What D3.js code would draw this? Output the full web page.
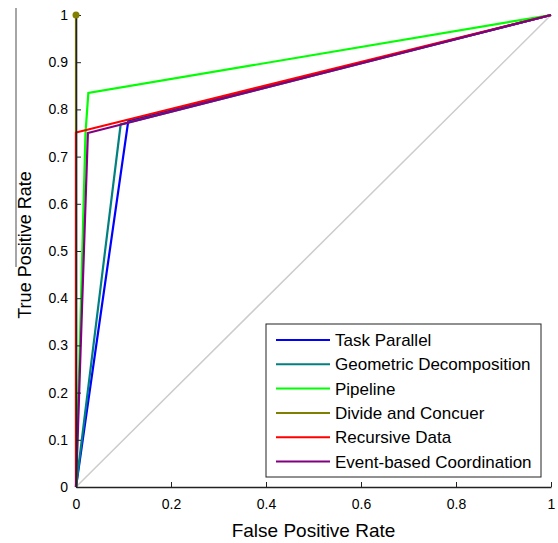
<!DOCTYPE html>
<html>
<head>
<meta charset="utf-8">
<script src="https://cdn.jsdelivr.net/npm/d3@7"></script>
<style>
  body { margin: 0; background: #fff; }
  svg { font-family: "Liberation Sans", Arial, sans-serif; }
</style>
</head>
<body>
<svg id="grafico"></svg>
<script>
const largura = 558;
const altura = 543;
const margem = { top: 15, right: 7, bottom: 56, left: 76 };

// Dados (FPR, TPR)
const series = ["Task Parallel", "Geometric Decomposition", "Pipeline",
                "Divide and Concuer", "Recursive Data", "Event-based Coordination"];
const cores = ["#0000ff", "#008080", "#00ff00", "#808000", "#ff0000", "#800080"];
const fprTask = [0, 0.11, 1];
const tprTask = [0, 0.775, 1];
const fprGeo = [0, 0.094, 1];
const tprGeo = [0, 0.768, 1];
const fprPipe = [0, 0.02, 0.026, 1];
const tprPipe = [0, 0.75, 0.835, 1];
const fprDivide = [0, 0];
const tprDivide = [0, 1];
const fprRec = [0, 0, 1];
const tprRec = [0, 0.751, 1];
const fprEvent = [0, 0.025, 1];
const tprEvent = [0, 0.75, 1];
const xTicks = [0, 0.2, 0.4, 0.6, 0.8, 1];
const yTicks = [0, 0.1, 0.2, 0.3, 0.4, 0.5, 0.6, 0.7, 0.8, 0.9, 1];

const curvas = [
  [fprTask, tprTask], [fprGeo, tprGeo], [fprPipe, tprPipe],
  [fprDivide, tprDivide], [fprRec, tprRec], [fprEvent, tprEvent]
].map(([fx, ty], i) => ({ nome: series[i], cor: cores[i], pts: fx.map((v, j) => [v, ty[j]]) }));

const svg = d3.select("#grafico")
  .attr("width", largura)
  .attr("height", altura);

// Escalas
const x = d3.scaleLinear().domain([0, 1]).range([margem.left, largura - margem.right]);
const y = d3.scaleLinear().domain([0, 1]).range([altura - margem.bottom, margem.top]);

const linha = d3.line().x(d => x(d[0])).y(d => y(d[1]));

// borda cinza à esquerda (artefato da figura)
svg.append("line")
  .attr("x1", 16).attr("x2", 16).attr("y1", 8).attr("y2", 267)
  .attr("stroke", "#888").attr("stroke-width", 1.5);

// diagonal
svg.append("path")
  .datum([[0, 0], [1, 1]])
  .attr("fill", "none")
  .attr("stroke", "#cccccc")
  .attr("stroke-width", 1.5)
  .attr("d", linha);

// Curvas
curvas.forEach(c => {
  svg.append("path")
    .datum(c.pts)
    .attr("fill", "none")
    .attr("stroke", c.cor)
    .attr("stroke-width", 2.2)
    .attr("d", linha);
});

// Eixos
const eixoX = svg.append("g")
  .attr("transform", `translate(0, ${y(0)})`)
  .call(d3.axisBottom(x).tickValues(xTicks).tickSizeInner(-5).tickSizeOuter(0)
    .tickFormat(d => d3.format("")(d)));
eixoX.selectAll("text").attr("y", 12).attr("font-size", 14).attr("fill", "#000")
  .attr("font-family", "Liberation Sans, Arial, sans-serif");

const eixoY = svg.append("g")
  .attr("transform", `translate(${x(0)}, 0)`)
  .call(d3.axisLeft(y).tickValues(yTicks).tickSizeInner(-5).tickSizeOuter(0)
    .tickFormat(d => d3.format("")(+d.toFixed(1))));
eixoY.selectAll("text").attr("x", -8).attr("font-size", 14).attr("fill", "#000")
  .attr("font-family", "Liberation Sans, Arial, sans-serif");

[eixoX, eixoY].forEach(g => {
  g.select(".domain").attr("stroke", "#222").attr("stroke-width", 1.5);
  g.selectAll(".tick line").attr("stroke", "#222");
});

// marcador do Divide and Concuer
svg.append("circle")
  .attr("cx", x(fprDivide[1]))
  .attr("cy", y(tprDivide[1]))
  .attr("r", 3.5)
  .attr("fill", cores[3]);

// Títulos
svg.append("text")
  .attr("x", (x(0) + x(1)) / 2)
  .attr("y", 537)
  .attr("text-anchor", "middle")
  .attr("font-size", 19)
  .text("False Positive Rate");

svg.append("text")
  .attr("transform", `translate(31, 245) rotate(-90)`)
  .attr("text-anchor", "middle")
  .attr("font-size", 18)
  .text("True Positive Rate");

// Legenda
const leg = svg.append("g").attr("transform", "translate(266, 324)");
leg.append("rect")
  .attr("width", 275).attr("height", 153)
  .attr("fill", "#fff").attr("stroke", "#222").attr("stroke-width", 1);
series.forEach((s, i) => {
  const yy = 16 + i * 24.3;
  leg.append("line")
    .attr("x1", 10).attr("x2", 64).attr("y1", yy).attr("y2", yy)
    .attr("stroke", cores[i]).attr("stroke-width", 2);
  leg.append("text")
    .attr("x", 69).attr("y", yy + 6)
    .attr("font-size", 17)
    .text(s);
});
</script>
</body>
</html>
